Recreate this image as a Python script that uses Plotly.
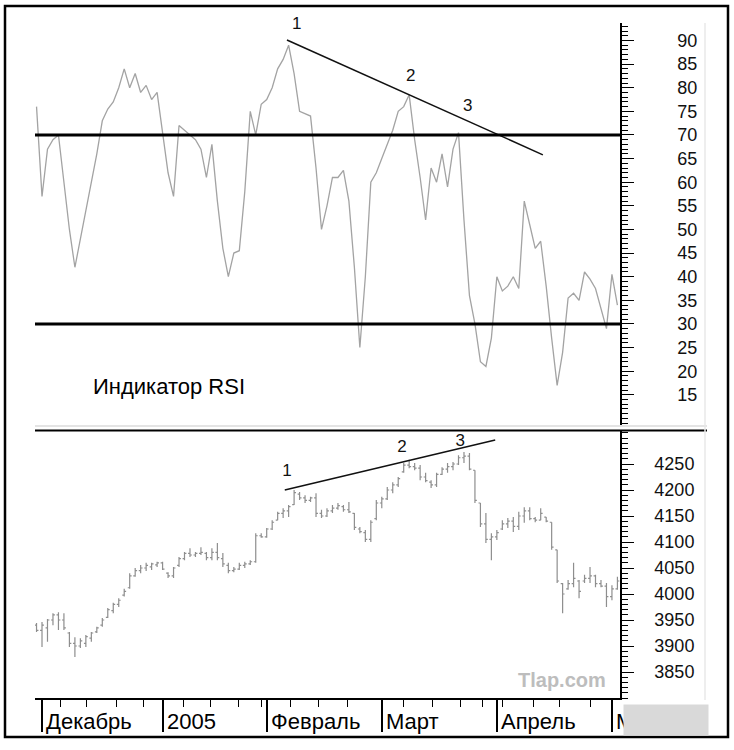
import plotly.graph_objects as go

W, H = 734, 750

# ---------------- data ----------------
days = list(range(-1, 106))

rsi = [76, 57, 67, 69, 70, 60, 50, 42, 48, 54,
       60, 66, 73, 75.5, 77, 80, 84, 80, 83, 79,
       80.5, 77.5, 79, 71, 62, 57, 72, 71, 70, 69,
       67, 61, 68, 56, 46, 40, 45, 45.5, 58, 75,
       70, 76.5, 77.5, 80, 84, 86, 89, 83, 75, 74.5,
       74, 63, 50, 55, 61, 61, 62.5, 56, 42, 25,
       40, 60, 62, 65, 68, 71, 75, 76, 78.5, 69,
       61, 52, 63, 60, 66, 59, 67, 70.5, 52, 36,
       30, 22, 21, 27, 40, 37, 38, 40, 37.5, 56,
       51, 46, 47.5, 38, 27, 17, 24, 35.5, 36.5, 35,
       41, 39.5, 37.5, 33, 29, 40.5, 34]

high = [3944, 3946, 3952, 3963, 3965, 3963, 3927, 3917, 3915, 3921,
        3927, 3937, 3954, 3973, 3983, 3992, 4010, 4040, 4050, 4056,
        4060, 4060, 4062, 4062, 4042, 4052, 4071, 4081, 4088, 4081,
        4090, 4081, 4088, 4098, 4079, 4060, 4052, 4060, 4062, 4065,
        4117, 4117, 4127, 4142, 4158, 4165, 4171, 4200, 4196, 4190,
        4187, 4194, 4162, 4165, 4171, 4175, 4171, 4177, 4156, 4129,
        4123, 4142, 4181, 4187, 4206, 4215, 4225, 4252, 4258, 4252,
        4248, 4233, 4219, 4233, 4244, 4252, 4254, 4267, 4273, 4271,
        4238, 4175, 4156, 4117, 4123, 4142, 4146, 4148, 4158, 4167,
        4167, 4148, 4165, 4148, 4138, 4085, 4021, 4027, 4060, 4027,
        4037, 4052, 4037, 4027, 4021, 4017, 4033]

low = [3927, 3898, 3908, 3940, 3931, 3931, 3898, 3879, 3896, 3898,
       3908, 3925, 3937, 3954, 3963, 3975, 3995, 4010, 4033, 4040,
       4044, 4046, 4052, 4046, 4031, 4031, 4052, 4065, 4071, 4071,
       4075, 4065, 4065, 4065, 4052, 4040, 4042, 4046, 4050, 4056,
       4060, 4108, 4108, 4123, 4142, 4146, 4148, 4171, 4181, 4175,
       4177, 4148, 4146, 4148, 4156, 4162, 4158, 4156, 4123, 4117,
       4100, 4100, 4142, 4165, 4181, 4194, 4206, 4233, 4242, 4238,
       4219, 4215, 4204, 4206, 4229, 4233, 4238, 4248, 4252, 4238,
       4175, 4129, 4098, 4065, 4104, 4123, 4127, 4119, 4123, 4137,
       4142, 4138, 4142, 4138, 4085, 4021, 3963, 4008, 4013, 3992,
       4021, 4021, 4013, 4013, 3975, 3988, 4008]

opn = [3940, 3930, 3935, 3950, 3960, 3950, 3925, 3905, 3900, 3905,
       3915, 3927, 3940, 3955, 3968, 3980, 3998, 4012, 4035, 4045,
       4050, 4052, 4056, 4060, 4040, 4035, 4055, 4068, 4078, 4075,
       4078, 4078, 4070, 4080, 4068, 4055, 4045, 4048, 4055, 4058,
       4062, 4112, 4110, 4125, 4142, 4155, 4160, 4172, 4192, 4185,
       4180, 4185, 4155, 4150, 4160, 4165, 4168, 4162, 4155, 4125,
       4118, 4105, 4145, 4175, 4183, 4200, 4210, 4235, 4248, 4245,
       4242, 4225, 4215, 4210, 4230, 4240, 4245, 4250, 4262, 4265,
       4238, 4175, 4135, 4105, 4110, 4125, 4135, 4140, 4130, 4150,
       4160, 4145, 4142, 4148, 4138, 4085, 4020, 4010, 4020, 4025,
       4025, 4030, 4035, 4020, 4015, 3995, 4010]

close = [3930, 3940, 3950, 3960, 3950, 3935, 3905, 3900, 3910, 3918,
         3925, 3935, 3950, 3970, 3980, 3988, 4005, 4035, 4045, 4050,
         4055, 4058, 4060, 4048, 4035, 4050, 4068, 4078, 4075, 4078,
         4080, 4070, 4080, 4070, 4058, 4045, 4048, 4055, 4058, 4062,
         4112, 4110, 4125, 4138, 4155, 4160, 4168, 4195, 4185, 4180,
         4185, 4155, 4150, 4160, 4165, 4170, 4162, 4158, 4128, 4120,
         4105, 4138, 4175, 4183, 4200, 4210, 4222, 4248, 4245, 4242,
         4225, 4218, 4210, 4230, 4240, 4245, 4250, 4262, 4265, 4240,
         4180, 4135, 4105, 4110, 4118, 4135, 4140, 4130, 4150, 4160,
         4145, 4142, 4155, 4140, 4090, 4025, 4000, 4020, 4030, 4005,
         4030, 4035, 4020, 4015, 3995, 4010, 4025]

# divergence trend lines and their point labels
rsi_trend_x = [44.7, 91.4]
rsi_trend_y = [90.1, 65.8]
price_trend_x = [44.3, 82.7]
price_trend_y = [4200, 4296]
rsi_pts_x = [46.5, 67.3, 77.7]
rsi_pts_y = [93.3, 82.3, 75.9]
price_pts_x = [44.7, 65.7, 76.3]
price_pts_y = [4235, 4281, 4292]
pt_labels = ["1", "2", "3"]

rsi_levels = [70, 30]

month_starts = [0, 22, 41, 62, 83, 104]
month_labels = ["Декабрь", "2005", "Февраль", "Март", "Апрель", "М"]
week_ticks = [3.3, 8.2, 13.5, 18.6, 25.9, 30.8, 35.9, 40.1, 45.3, 50.4,
              55.7, 65.9, 71.2, 76.3, 80.3, 84.1, 89.6, 94.5, 100.0]
rsi_ticks = [15, 20, 25, 30, 35, 40, 45, 50, 55, 60, 65, 70, 75, 80, 85, 90]
price_ticks = [3850, 3900, 3950, 4000, 4050, 4100, 4150, 4200, 4250]

# ---------------- layout helpers ----------------
def px(x):
    return x / W


def py(y):
    return 1 - y / H


FONT = "Arial, Liberation Sans, sans-serif"
XRANGE = [-1.28, 105.47]
XDOM = [px(35), px(620)]

fig = go.Figure()

fig.add_trace(go.Scatter(
    x=days, y=rsi, mode="lines", xaxis="x2", yaxis="y2",
    line=dict(color="#a3a3a3", width=1.3), showlegend=False, hoverinfo="skip"))

fig.add_trace(go.Ohlc(
    x=days, open=opn, high=high, low=low, close=close, xaxis="x", yaxis="y",
    increasing=dict(line=dict(color="#8e8e8e", width=1.2)),
    decreasing=dict(line=dict(color="#8e8e8e", width=1.2)),
    tickwidth=0.35, showlegend=False, hoverinfo="skip"))

# invisible carrier trace so the month-separator axis (x3) is drawn
fig.add_trace(go.Scatter(
    x=days, y=close, mode="lines", xaxis="x3", yaxis="y",
    line=dict(color="rgba(0,0,0,0)", width=0), showlegend=False, hoverinfo="skip"))

fig.add_trace(go.Scatter(
    x=rsi_trend_x, y=rsi_trend_y, mode="lines", xaxis="x2", yaxis="y2",
    line=dict(color="#111111", width=1.5), showlegend=False, hoverinfo="skip"))
fig.add_trace(go.Scatter(
    x=price_trend_x, y=price_trend_y, mode="lines", xaxis="x", yaxis="y",
    line=dict(color="#111111", width=1.5), showlegend=False, hoverinfo="skip"))

fig.add_trace(go.Scatter(
    x=rsi_pts_x, y=rsi_pts_y, mode="text", text=pt_labels, xaxis="x2", yaxis="y2",
    textfont=dict(family=FONT, size=17, color="#111111"), showlegend=False,
    hoverinfo="skip", cliponaxis=False))
fig.add_trace(go.Scatter(
    x=price_pts_x, y=price_pts_y, mode="text", text=pt_labels, xaxis="x", yaxis="y",
    textfont=dict(family=FONT, size=17, color="#111111"), showlegend=False,
    hoverinfo="skip", cliponaxis=False))

axis_common = dict(showgrid=False, zeroline=False, linecolor="black", tickcolor="black")

fig.update_layout(
    width=W, height=H, margin=dict(l=0, r=0, t=0, b=0),
    paper_bgcolor="white", plot_bgcolor="white",
    font=dict(family=FONT, color="black"),
    xaxis=dict(domain=XDOM, range=XRANGE, anchor="y", tickvals=week_ticks,
               ticks="outside", ticklen=7, tickwidth=1.3, showticklabels=False,
               showline=True, linewidth=1.5, rangeslider=dict(visible=False),
               **axis_common),
    xaxis3=dict(domain=XDOM, range=XRANGE, anchor="y", overlaying="x", side="bottom",
                tickvals=month_starts, ticks="outside", ticklen=33, tickwidth=2,
                showticklabels=False, showline=False, **axis_common),
    xaxis2=dict(domain=XDOM, range=XRANGE, anchor="y2", visible=False),
    yaxis=dict(domain=[py(698), py(430)], range=[3800, 4315.4], anchor="x", side="right",
               tickvals=price_ticks, ticks="outside", ticklen=12, tickwidth=1.3,
               showline=True, linewidth=1.5, ticklabelstandoff=17,
               tickfont=dict(family=FONT, size=18, color="#111111"),
               minor=dict(dtick=10, tick0=3800, ticks="outside", ticklen=6,
                          tickcolor="black", tickwidth=1),
               **axis_common),
    yaxis2=dict(domain=[py(426), py(23)], range=[8.4, 93.7], anchor="x2", side="right",
                tickvals=rsi_ticks, ticks="outside", ticklen=12, tickwidth=1.3,
                showline=True, linewidth=1.5, ticklabelstandoff=40,
                tickfont=dict(family=FONT, size=18, color="#111111"),
                minor=dict(dtick=1, tick0=0, ticks="outside", ticklen=6,
                           tickcolor="black", tickwidth=1),
                **axis_common),
)

shapes = []
for lvl in rsi_levels:
    shapes.append(dict(type="line", xref="x2 domain", yref="y2", x0=0, x1=1,
                       y0=lvl, y1=lvl, line=dict(color="black", width=3)))
# panel separators
shapes.append(dict(type="line", xref="paper", yref="paper", x0=px(35), x1=px(707),
                   y0=py(426), y1=py(426), line=dict(color="#e4e4e4", width=2)))
shapes.append(dict(type="line", xref="paper", yref="paper", x0=px(35), x1=px(707),
                   y0=py(430.5), y1=py(430.5), line=dict(color="black", width=2)))
# light label-area edge
shapes.append(dict(type="line", xref="paper", yref="paper", x0=px(705), x1=px(705),
                   y0=py(700), y1=py(23), line=dict(color="#e8e8e8", width=1.5)))
# outer frame
shapes.append(dict(type="rect", xref="paper", yref="paper", x0=px(5), x1=px(728),
                   y0=py(737), y1=py(6), line=dict(color="black", width=2.5)))
fig.update_layout(shapes=shapes)

annotations = []
for xs, lab in zip(month_starts, month_labels):
    annotations.append(dict(x=xs, xref="x", y=py(721), yref="paper", text=lab,
                            showarrow=False, xanchor="left", yanchor="middle", xshift=2,
                            font=dict(family=FONT, size=22, color="black")))
annotations.append(dict(x=px(623), y=py(704), xref="paper", yref="paper", text=" ",
                        showarrow=False, xanchor="left", yanchor="top", width=84, height=30,
                        bgcolor="#d9d9d9", borderpad=0))
annotations.append(dict(x=px(91), y=py(386), xref="paper", yref="paper", text="Индикатор RSI",
                        showarrow=False, xanchor="left", yanchor="middle",
                        font=dict(family=FONT, size=22, color="black")))
annotations.append(dict(x=px(608), y=py(680), xref="paper", yref="paper", text="<b>Tlap.com</b>",
                        showarrow=False, xanchor="right", yanchor="middle",
                        font=dict(family=FONT, size=20, color="#bdbdbd")))
fig.update_layout(annotations=annotations)

fig.write_html("out.html")
